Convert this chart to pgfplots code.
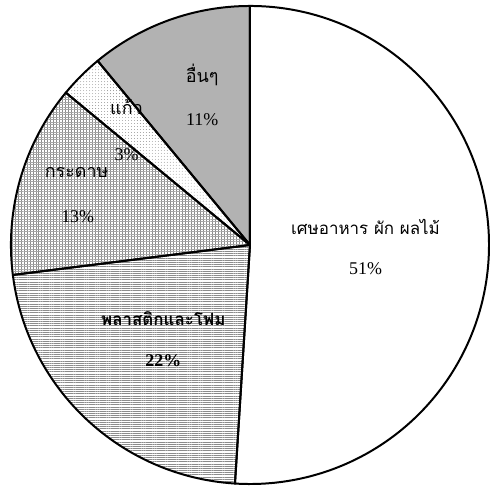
\documentclass[border=0pt]{standalone}
\usepackage{pgfplots}
\pgfplotsset{compat=1.18}
\usepackage{fontspec}
\setmainfont{Liberation Serif}
\newfontfamily\thaifont[Script=Thai]{Loma}
\usetikzlibrary{patterns,patterns.meta}
% shares (percent), clockwise from 12 o'clock
\pgfmathsetmacro\aA{90}
\pgfmathsetmacro\aB{\aA-51*3.6}
\pgfmathsetmacro\aC{\aB-22*3.6}
\pgfmathsetmacro\aD{\aC-13*3.6}
\pgfmathsetmacro\aE{\aD-3*3.6}
\pgfmathsetmacro\aF{\aE-11*3.6}
\def\R{240pt}
\begin{document}
\begin{tikzpicture}
\begin{axis}[hide axis, scale only axis, width=489pt, height=490pt,
  xmin=0, xmax=489, ymin=0, ymax=490, clip=false]
% food
\fill[white] (axis cs:251,244) -- ++(\aA:\R) arc[start angle=\aA, end angle=\aB, radius=\R] -- cycle;
% plastic
\fill[pattern={Lines[angle=0, distance=2.2pt, line width=0.8pt]}, pattern color=black!45] (axis cs:251,244) -- ++(\aB:\R) arc[start angle=\aB, end angle=\aC, radius=\R] -- cycle;
% paper
\fill[pattern={Lines[angle=90, distance=3pt, line width=0.7pt]}, pattern color=black!45] (axis cs:251,244) -- ++(\aC:\R) arc[start angle=\aC, end angle=\aD, radius=\R] -- cycle;
\fill[pattern={Lines[angle=0, distance=2.5pt, line width=0.6pt]}, pattern color=black!35] (axis cs:251,244) -- ++(\aC:\R) arc[start angle=\aC, end angle=\aD, radius=\R] -- cycle;
% glass
\fill[pattern={Dots[distance=3pt, radius=0.45pt]}, pattern color=black!45] (axis cs:251,244) -- ++(\aD:\R) arc[start angle=\aD, end angle=\aE, radius=\R] -- cycle;
% others
\fill[black!30] (axis cs:251,244) -- ++(\aE:\R) arc[start angle=\aE, end angle=\aF, radius=\R] -- cycle;
% outlines
\draw[line width=2pt, line join=round] (axis cs:251,244) -- ++(\aA:\R) arc[start angle=\aA, end angle=\aB, radius=\R] -- cycle;
\draw[line width=2pt, line join=round] (axis cs:251,244) -- ++(\aB:\R) arc[start angle=\aB, end angle=\aC, radius=\R] -- cycle;
\draw[line width=2pt, line join=round] (axis cs:251,244) -- ++(\aC:\R) arc[start angle=\aC, end angle=\aD, radius=\R] -- cycle;
\draw[line width=2pt, line join=round] (axis cs:251,244) -- ++(\aD:\R) arc[start angle=\aD, end angle=\aE, radius=\R] -- cycle;
\draw[line width=2pt, line join=round] (axis cs:251,244) -- ++(\aE:\R) arc[start angle=\aE, end angle=\aF, radius=\R] -- cycle;
% labels
\node[font=\thaifont\fontsize{17}{20}\selectfont] at (axis cs:367,262) {เศษอาหาร ผัก ผลไม้};
\node[font=\fontsize{18}{20}\selectfont] at (axis cs:367,220) {51\%};
\node[font=\thaifont\bfseries\fontsize{17}{20}\selectfont] at (axis cs:164,170) {พลาสติกและโฟม};
\node[font=\bfseries\fontsize{18}{20}\selectfont] at (axis cs:164,128) {22\%};
\node[font=\thaifont\fontsize{18}{20}\selectfont] at (axis cs:77,317) {กระดาษ};
\node[font=\fontsize{18}{20}\selectfont] at (axis cs:78,272) {13\%};
\node[font=\thaifont\fontsize{18}{20}\selectfont] at (axis cs:127,382) {แก้ว};
\node[font=\fontsize{18}{20}\selectfont] at (axis cs:127,335) {3\%};
\node[font=\thaifont\fontsize{18}{20}\selectfont] at (axis cs:203,415) {อื่นๆ};
\node[font=\fontsize{18}{20}\selectfont] at (axis cs:203,370) {11\%};
\end{axis}
\path[use as bounding box] (0,0) rectangle (489pt,490pt);
\end{tikzpicture}
\end{document}
